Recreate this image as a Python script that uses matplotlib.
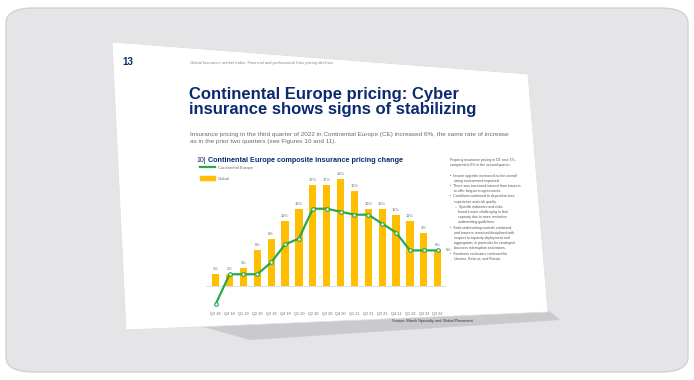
import matplotlib.pyplot as plt
import matplotlib.patches as mpatches
from matplotlib.lines import Line2D

# ================================
# DATA
# ================================
quarters = ["Q3 18", "Q4 18", "Q1 19", "Q2 19", "Q3 19", "Q4 19", "Q1 20", "Q2 20", "Q3 20",
            "Q4 20", "Q1 21", "Q2 21", "Q3 21", "Q4 21", "Q1 22", "Q2 22", "Q3 22"]
global_change = [2, 2, 3, 6, 8, 11, 13, 17, 17, 18, 16, 13, 13, 12, 11, 9, 6]
europe_change = [-3, 2, 2, 2, 4, 7, 8, 13, 13, 12.5, 12, 12, 10.5, 9, 6, 6, 6]

NAVY = "#0b2a6f"
GOLD = "#ffbe00"
GREEN = "#2aa84a"
GREY = "#6b6b6b"

plt.rcParams["font.family"] = ["Liberation Sans", "DejaVu Sans"]

fig = plt.figure(figsize=(6.94, 3.8), dpi=100)
fig.patch.set_facecolor("white")

# ================================
# BACKGROUND CARD AND SLIDE
# ================================
W, H = 694, 380
def fx(px, py):
    return (px / W, 1 - py / H)

card = mpatches.FancyBboxPatch(fx(6, 372), 682 / W, 364 / H,
                               boxstyle="round,pad=0,rounding_size=0.04",
                               transform=fig.transFigure, facecolor="#e5e5e7",
                               edgecolor="#d2d2d4", lw=1, zorder=-3)
fig.patches.append(card)

shadow = mpatches.Polygon([fx(200, 326), fx(548, 310), fx(560, 320), fx(250, 340)],
                          closed=True, transform=fig.transFigure,
                          facecolor="#c4c4c8", edgecolor="none", alpha=0.8, zorder=-2)
fig.patches.append(shadow)

slide = mpatches.Polygon([fx(112, 42), fx(528, 74), fx(548, 312), fx(126, 330)],
                         closed=True, transform=fig.transFigure,
                         facecolor="white", edgecolor="#e0e0e0", lw=0.6, zorder=-1)
fig.patches.append(slide)

# ================================
# SLIDE TEXT
# ================================
fig.text(*fx(122, 62), "13", color=NAVY, fontsize=7, fontweight="bold", va="center")
fig.text(*fx(190, 63), "Global Insurance market index: Financial and professional lines pricing declines",
         color="#8a8a8a", fontsize=3, va="center")
fig.text(*fx(189, 102), "Continental Europe pricing: Cyber\ninsurance shows signs of stabilizing",
         color=NAVY, fontsize=12, fontweight="bold", va="center", linespacing=1.05)
fig.text(*fx(190, 138), "Insurance pricing in the third quarter of 2022 in Continental Europe (CE) increased 6%, "
         "the same rate of increase\nas in the prior two quarters (see Figures 10 and 11).",
         color=GREY, fontsize=4.6, va="center", linespacing=1.35)
fig.text(*fx(196, 160), "10|", color=NAVY, fontsize=5, va="center")
fig.text(*fx(208, 160), "Continental Europe composite insurance pricing change",
         color=NAVY, fontsize=5.2, fontweight="bold", va="center")

side = ("Property insurance pricing in CE rose 5%,\ncompared to 6% in the second quarter.\n\n"
        "•  Insurer appetite increased as the overall\n    rating environment improved.\n"
        "•  There was increased interest from insurers\n    to offer long-term agreements.\n"
        "•  Conditions continued to depend on loss\n    experience and risk quality.\n"
        "     –  Specific industries and risks\n        found it more challenging to find\n"
        "        capacity due to more restrictive\n        underwriting guidelines.\n"
        "•  Strict underwriting controls continued,\n    and insurers remained disciplined with\n"
        "    respect to capacity deployment and\n    aggregation, in particular for contingent\n"
        "    business interruption extensions.\n"
        "•  Sanctions exclusions continued for\n    Ukraine, Belarus, and Russia.")
fig.text(*fx(450, 158), side, color="#555555", fontsize=2.5, va="top", linespacing=1.4)

# ================================
# CHART
# ================================
ax = fig.add_axes([206 / W, 1 - 310 / H, 240 / W, 140 / H])
ax.set_facecolor("none")
x = range(len(quarters))

ax.bar(x, global_change, width=0.52, color=GOLD, zorder=2)
for xi, v in zip(x, global_change):
    ax.text(xi, v + 0.5, f"{v}%", ha="center", va="bottom", fontsize=3, color=GREY)

ax.plot(x, europe_change, color=GREEN, lw=1.6, marker="o", markersize=2.6,
        markerfacecolor="white", markeredgecolor=GREEN, markeredgewidth=0.8, zorder=3)
ax.text(len(quarters) - 1 + 0.55, europe_change[-1], f"{europe_change[-1]:.0f}%",
        fontsize=3, color=GREY, va="center")

ax.axhline(0, color="#d9d9d9", lw=0.6, zorder=1)
ax.set_ylim(-4, 19.5)
ax.set_xlim(-0.7, len(quarters) - 0.4)
ax.set_xticks(list(x))
ax.set_xticklabels(quarters, fontsize=2.8, color=GREY)
ax.tick_params(axis="x", length=0, pad=1.5)
ax.set_yticks([])
for s in ax.spines.values():
    s.set_visible(False)

handles = [Line2D([0], [0], color=GREEN, lw=1.6),
           mpatches.Patch(color=GOLD)]
leg = ax.legend(handles, ["Continental Europe", "Global"], loc="upper left",
                bbox_to_anchor=(-0.04, 1.06), frameon=False, fontsize=3,
                handlelength=3.5, handleheight=1.3, labelspacing=1.4)
for t in leg.get_texts():
    t.set_color(GREY)

fig.text(*fx(392, 321), "Source: Marsh Specialty and Global Placement", fontsize=2.8,
         color="#333333", va="center")

fig.savefig("out.png", dpi=100, facecolor=fig.get_facecolor())
